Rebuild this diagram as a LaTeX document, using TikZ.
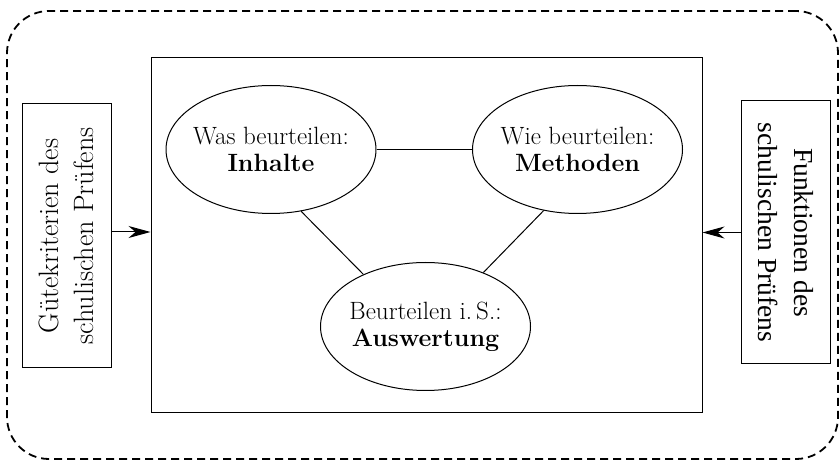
\documentclass[tikz,border=0pt]{standalone}
\usepackage{fontspec}
\newfontfamily\timesfont{Liberation Serif}
\usetikzlibrary{shapes.geometric,arrows.meta}

\begin{document}
\begin{tikzpicture}[x=1pt,y=-1pt,
  outerline/.style={draw, line width=1.8pt, dash pattern=on 8pt off 5pt, rounded corners=42pt, inner sep=0pt},
  box/.style={draw, line width=1pt, inner sep=0pt, align=center},
  topic/.style={draw, ellipse, line width=1pt, inner xsep=-12pt, inner ysep=0pt,
    minimum width=210pt, minimum height=128pt, align=center,
    font=\fontsize{25}{27}\selectfont},
  link/.style={line width=1pt},
  feed/.style={line width=1pt, -{Stealth[length=22pt,width=12pt,inset=7pt]}}
]
\useasboundingbox (0,0) rectangle (839,462);

% dashed surrounding frame
\node[outerline, minimum width=831pt, minimum height=448pt] (outer) at (422.5,235) {};

% central frame with the three aspects
\node[box, minimum width=551pt, minimum height=355pt] (frame) at (426.5,235.5) {};

\node[topic] (inh)  at (271,149.5)   {Was beurteilen:\\\textbf{Inhalte}};
\node[topic] (meth) at (577.5,149.5) {Wie beurteilen:\\\textbf{Methoden}};
\node[topic] (ausw) at (425.5,326.5) {Beurteilen i.\,S.:\\\textbf{Auswertung}};

\draw[link] (inh) -- (meth);
\draw[link] (inh.-64) -- (ausw.140);
\draw[link] (meth.-119) -- (ausw.43);

% side boxes
\node[box, rotate=90, minimum width=264pt, minimum height=89pt,
      font=\fontsize{28}{35}\selectfont] (crit) at (66.5,236)
      {Gütekriterien des\\schulischen Prüfens};
\node[box, rotate=-90, minimum width=263pt, minimum height=89pt,
      font=\timesfont\fontsize{27.5}{36}\selectfont] (func) at (785.5,232.5)
      {Funktionen des\\schulischen Prüfens};

\draw[feed] ([yshift=4pt]crit.south) -- ([yshift=4pt]crit.south -| frame.west);
\draw[feed] (func.south) -- (func.south -| frame.east);
\end{tikzpicture}
\end{document}
